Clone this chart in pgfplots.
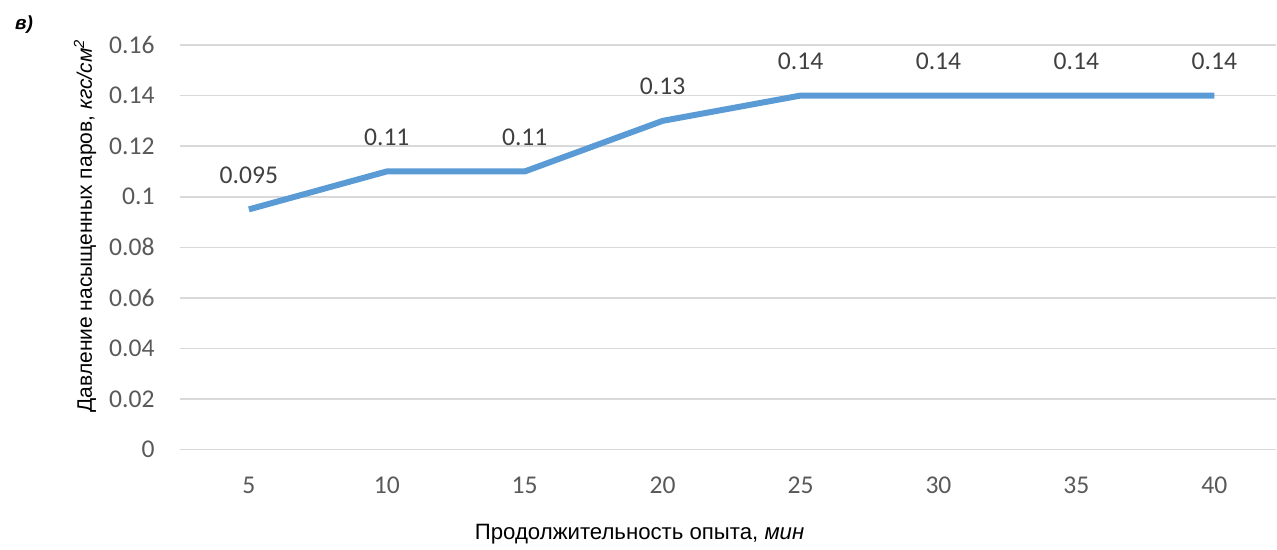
\documentclass[border=0pt]{standalone}
\usepackage{fontspec}
\setmainfont{Liberation Sans}
\newfontfamily\carlito{Carlito}
\usepackage{pgfplots}
\usepackage{pgfplotstable}
\pgfplotsset{compat=1.18}
\definecolor{linecol}{HTML}{5B9BD5}
\definecolor{tickcol}{HTML}{595959}
\definecolor{labcol}{HTML}{404040}
\definecolor{gridcol}{HTML}{D9D9D9}
\pgfplotstableread{
x y lab
0 0.095 0.095
1 0.11 0.11
2 0.11 0.11
3 0.13 0.13
4 0.14 0.14
5 0.14 0.14
6 0.14 0.14
7 0.14 0.14
}\datatable
\begin{document}
\begin{tikzpicture}
\begin{axis}[
  scale only axis,
  width=548.5pt, height=202.5pt,
  xmin=-0.5, xmax=7.449,
  ymin=0, ymax=0.16,
  xtick={0,1,2,3,4,5,6,7},
  xticklabels={5,10,15,20,25,30,35,40},
  ytick={0,0.02,0.04,0.06,0.08,0.1,0.12,0.14,0.16},
  yticklabels={0,0.02,0.04,0.06,0.08,0.1,0.12,0.14,0.16},
  axis line style={draw=none},
  major tick length=0pt,
  ymajorgrids,
  grid style={gridcol, line width=0.75pt},
  /pgf/number format/assume math mode=true,
  ticklabel style={font=\carlito\fontsize{12.8}{14}\selectfont, text=tickcol, inner sep=0pt},
  xticklabel style={anchor=north},
  xticklabel shift=13.5pt,
  yticklabel style={anchor=east},
  yticklabel shift=12.5pt,
  xlabel={Продолжительность опыта, \textit{мин}},
  ylabel={Давление насыщенных паров, \textit{кгс/см\textsuperscript{2}}},
  label style={text=black, inner sep=0pt},
  xlabel style={font=\fontsize{11.1}{12}\selectfont, at={(axis description cs:0.4193,-0.2222)}, anchor=base},
  ylabel style={font=\fontsize{10.5}{12}\selectfont, at={(axis description cs:-0.0802,0.553)}, anchor=base, rotate=0},
  clip=false,
]
\addplot[linecol, line width=3pt, line join=round,
  nodes near coords, point meta=explicit symbolic,
  every node near coord/.append style={font=\carlito\fontsize{12.8}{14}\selectfont, text=labcol, inner sep=0pt, anchor=base, yshift=13pt}]
  table[x=x, y=y, meta=lab] {\datatable};
\end{axis}
\node[anchor=base west, font=\bfseries\itshape\fontsize{9.5}{11}\selectfont] at ([shift={(-86pt,7.5pt)}]current axis.north west) {в)};
\useasboundingbox ([shift={(-90pt,-50pt)}]current axis.south west) rectangle ([shift={(0pt,22.5pt)}]current axis.north east);
\end{tikzpicture}
\end{document}
